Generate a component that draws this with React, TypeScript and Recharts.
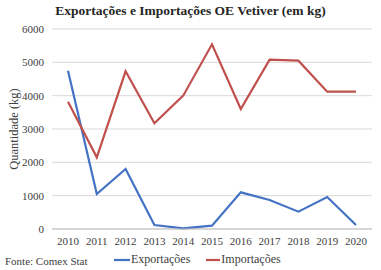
import { LineChart, Line, XAxis, YAxis, CartesianGrid } from 'recharts';

const years = ['2010', '2011', '2012', '2013', '2014', '2015', '2016', '2017', '2018', '2019', '2020'];
const exportacoes = [4750, 1050, 1800, 120, 20, 100, 1100, 870, 520, 960, 120];
const importacoes = [3820, 2150, 4730, 3170, 4000, 5540, 3600, 5080, 5050, 4120, 4120];
const yTicks = [0, 1000, 2000, 3000, 4000, 5000, 6000];

const data = years.map((year, i) => ({
  year,
  exportacoes: exportacoes[i],
  importacoes: importacoes[i],
}));

const serif = 'Liberation Serif, Times New Roman, serif';
const tickStyle = { fontSize: 11, fill: '#404040', fontFamily: serif, style: { fontFamily: serif } };

export default function App() {
  return (
    <div style={{ position: 'absolute', left: 0, top: 0, width: 381, height: 270, background: '#fff', fontFamily: serif }}>
      <div style={{ position: 'absolute', top: 3, width: 381, textAlign: 'center', fontWeight: 'bold', fontSize: 13.5, color: '#262626' }}>
        Exportações e Importações OE Vetiver (em kg)
      </div>
      <LineChart width={381} height={270} data={data} margin={{ top: 29, right: 9, left: 0, bottom: 22 }} style={{ fontFamily: serif }}>
        <CartesianGrid vertical={false} stroke="#d9d9d9" />
        <XAxis
          dataKey="year"
          tickLine={false}
          axisLine={{ stroke: '#bfbfbf' }}
          tick={tickStyle}
          padding={{ left: 16, right: 16 }}
          interval={0}
          height={19}
        />
        <YAxis
          ticks={yTicks}
          domain={[0, 6000]}
          width={52}
          tickLine={false}
          axisLine={false}
          tick={tickStyle}
          label={{ value: 'Quantidade  (kg)', angle: -90, position: 'insideLeft', offset: 14, style: { textAnchor: 'middle', fontSize: 12.5, fill: '#404040', fontFamily: serif } }}
        />
        <Line dataKey="exportacoes" name="Exportações" stroke="#4472C4" strokeWidth={2.2} dot={false} isAnimationActive={false} />
        <Line dataKey="importacoes" name="Importações" stroke="#C0504D" strokeWidth={2.2} dot={false} isAnimationActive={false} />
      </LineChart>
      <div style={{ position: 'absolute', left: 5, top: 255, fontSize: 11, color: '#404040' }}>Fonte: Comex Stat</div>
      <div style={{ position: 'absolute', left: 114, top: 252, display: 'flex', alignItems: 'center', fontSize: 12, color: '#404040' }}>
        <svg width={16} height={4} style={{ marginRight: 1 }}>
          <line x1={0} y1={2} x2={16} y2={2} stroke="#4472C4" strokeWidth={2.2} />
        </svg>
        <span style={{ marginRight: 16 }}>Exportações</span>
        <svg width={14} height={4} style={{ marginRight: 1 }}>
          <line x1={0} y1={2} x2={14} y2={2} stroke="#C0504D" strokeWidth={2.2} />
        </svg>
        <span>Importações</span>
      </div>
    </div>
  );
}
